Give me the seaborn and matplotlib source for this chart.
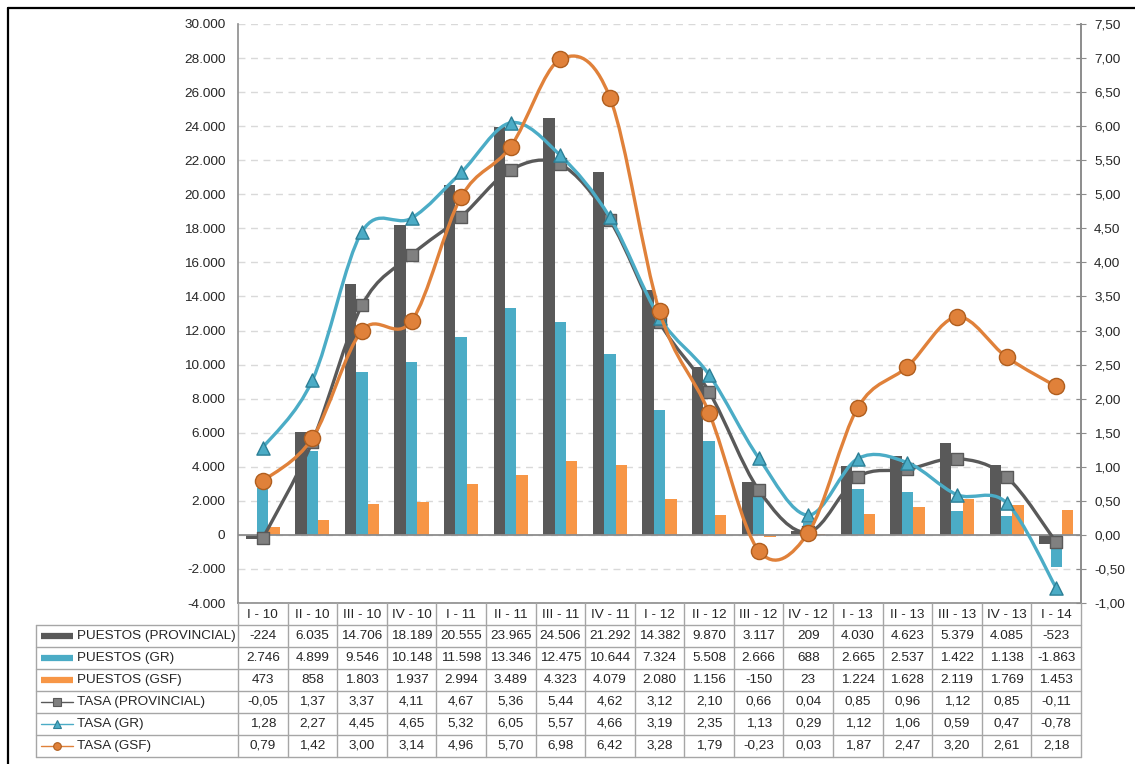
import numpy as np
import pandas as pd
import matplotlib
matplotlib.use("Agg")
import matplotlib.pyplot as plt
import seaborn as sns
from matplotlib.path import Path
from matplotlib.patches import PathPatch
from matplotlib.lines import Line2D
from matplotlib.ticker import FuncFormatter, MultipleLocator

periods = ["I - 10", "II - 10", "III - 10", "IV - 10", "I - 11", "II - 11", "III - 11", "IV - 11",
           "I - 12", "II - 12", "III - 12", "IV - 12", "I - 13", "II - 13", "III - 13", "IV - 13", "I - 14"]
puestos_prov = [-224, 6035, 14706, 18189, 20555, 23965, 24506, 21292, 14382, 9870, 3117, 209,
                4030, 4623, 5379, 4085, -523]
puestos_gr = [2746, 4899, 9546, 10148, 11598, 13346, 12475, 10644, 7324, 5508, 2666, 688,
              2665, 2537, 1422, 1138, -1863]
puestos_gsf = [473, 858, 1803, 1937, 2994, 3489, 4323, 4079, 2080, 1156, -150, 23,
               1224, 1628, 2119, 1769, 1453]
tasa_prov = [-0.05, 1.37, 3.37, 4.11, 4.67, 5.36, 5.44, 4.62, 3.12, 2.10, 0.66, 0.04,
             0.85, 0.96, 1.12, 0.85, -0.11]
tasa_gr = [1.28, 2.27, 4.45, 4.65, 5.32, 6.05, 5.57, 4.66, 3.19, 2.35, 1.13, 0.29,
           1.12, 1.06, 0.59, 0.47, -0.78]
tasa_gsf = [0.79, 1.42, 3.00, 3.14, 4.96, 5.70, 6.98, 6.42, 3.28, 1.79, -0.23, 0.03,
            1.87, 2.47, 3.20, 2.61, 2.18]

bar_names = ["PUESTOS (PROVINCIAL)", "PUESTOS (GR)", "PUESTOS (GSF)"]
line_names = ["TASA (PROVINCIAL)", "TASA (GR)", "TASA (GSF)"]
bar_colors = ["#595959", "#4BACC6", "#F79646"]
line_colors = ["#595959", "#4BACC6", "#E0813A"]
marker_faces = ["#808080", "#4BACC6", "#E0813A"]
marker_edges = ["#595959", "#2C7F96", "#B05E1E"]
markers = ["s", "^", "o"]
marker_sizes = [85, 90, 135]

sns.set_style("white")
plt.rcParams["font.family"] = ["Liberation Sans", "DejaVu Sans"]
plt.rcParams["font.size"] = 9.7

W, H = 1135, 764
fig = plt.figure(figsize=(W / 100, H / 100), dpi=100)

x_left, x_right, y_top, y_bot = 238, 1081, 24, 603
ax = fig.add_axes([x_left / W, 1 - y_bot / H, (x_right - x_left) / W, (y_bot - y_top) / H])

df = pd.DataFrame({
    "periodo": periods * 3,
    "serie": [n for n in bar_names for _ in periods],
    "puestos": puestos_prov + puestos_gr + puestos_gsf,
})
sns.barplot(data=df, x="periodo", y="puestos", hue="serie", order=periods, hue_order=bar_names,
            palette=bar_colors, width=0.69, gap=0, saturation=1, linewidth=0,
            legend=False, ax=ax, zorder=2)

ax.set_xlim(-0.5, len(periods) - 0.5)
ax.set_ylim(-4000, 30000)
ax.yaxis.set_major_locator(MultipleLocator(2000))
ax.yaxis.set_major_formatter(FuncFormatter(lambda v, p: f"{v:,.0f}".replace(",", ".")))
ax.set_axisbelow(True)
ax.yaxis.grid(True, color="#D9D9D9", lw=1, ls=(0, (5, 4)))
ax.axhline(0, color="#8C8C8C", lw=1.3, zorder=2.5)
ax.tick_params(axis="x", length=0, labelbottom=False)
ax.tick_params(axis="y", length=0, pad=9)
ax.set_xlabel("")
ax.set_ylabel("")
for side in ["top"]:
    ax.spines[side].set_visible(False)
for side in ["left", "right", "bottom"]:
    ax.spines[side].set_color("#8C8C8C")
    ax.spines[side].set_linewidth(1.2)

ax2 = ax.twinx()
ax2.set_ylim(-1, 7.5)
ax2.yaxis.set_major_locator(MultipleLocator(0.5))
ax2.yaxis.set_major_formatter(FuncFormatter(lambda v, p: f"{v:.2f}".replace(".", ",")))
ax2.tick_params(axis="y", direction="inout", length=7, color="#8C8C8C", pad=6)
ax2.spines["top"].set_visible(False)
ax2.spines["left"].set_visible(False)
ax2.spines["bottom"].set_visible(False)
ax2.spines["right"].set_color("#8C8C8C")
ax2.spines["right"].set_linewidth(1.2)


def smooth_path(xs, ys):
    pts = np.column_stack([xs, ys]).astype(float)
    n = len(pts)
    verts = [pts[0]]
    codes = [Path.MOVETO]
    for i in range(n - 1):
        p0 = pts[max(i - 1, 0)]
        p1 = pts[i]
        p2 = pts[i + 1]
        p3 = pts[min(i + 2, n - 1)]
        verts += [p1 + (p2 - p0) / 6, p2 - (p3 - p1) / 6, p2]
        codes += [Path.CURVE4] * 3
    return Path(verts, codes)


xs = np.arange(len(periods))
for k, vals in enumerate([tasa_prov, tasa_gr, tasa_gsf]):
    ax2.add_patch(PathPatch(smooth_path(xs, vals), fill=False, edgecolor=line_colors[k],
                            lw=2.4, zorder=3 + 2 * k, capstyle="round", joinstyle="round"))
    sns.scatterplot(x=xs, y=vals, marker=markers[k], s=marker_sizes[k], color=marker_faces[k],
                    edgecolor=marker_edges[k], linewidth=1, ax=ax2, zorder=4 + 2 * k, legend=False)

# data table below the plot
t_left, t_bot = 36, 757
col_w = (x_right - x_left) / len(periods)
tax = fig.add_axes([t_left / W, 1 - t_bot / H, (x_right - t_left) / W, (t_bot - y_bot) / H])
x0 = -0.5 - (x_left - t_left) / col_w
x1 = len(periods) - 0.5
tax.set_xlim(x0, x1)
tax.set_ylim(7, 0)
tax.axis("off")


def px(p):
    return x0 + (p - t_left) / col_w


grid_c = "#A6A6A6"
for k in range(len(periods) + 1):
    tax.plot([k - 0.5, k - 0.5], [0, 7], color=grid_c, lw=1, clip_on=False)
tax.plot([x0, x0], [1, 7], color=grid_c, lw=1, clip_on=False)
for r in range(1, 8):
    tax.plot([x0, x1], [r, r], color=grid_c, lw=1, clip_on=False)

for i, lab in enumerate(periods):
    tax.text(i, 0.55, lab, ha="center", va="center")


def fmt_int(v):
    return f"{v:,.0f}".replace(",", ".")


def fmt_dec(v):
    return f"{v:.2f}".replace(".", ",")


rows = [
    (bar_names[0], puestos_prov, fmt_int),
    (bar_names[1], puestos_gr, fmt_int),
    (bar_names[2], puestos_gsf, fmt_int),
    (line_names[0], tasa_prov, fmt_dec),
    (line_names[1], tasa_gr, fmt_dec),
    (line_names[2], tasa_gsf, fmt_dec),
]
for r, (name, vals, f) in enumerate(rows, start=1):
    y = r + 0.5
    tax.text(px(77), y, name, ha="left", va="center")
    for i, v in enumerate(vals):
        tax.text(i, y, f(v), ha="center", va="center")
    if r <= 3:
        tax.plot([px(41), px(73)], [y, y], color=bar_colors[r - 1], lw=4.5, solid_capstyle="butt")
    else:
        k = r - 4
        tax.plot([px(41), px(73)], [y, y], color=line_colors[k], lw=1)
        tax.plot([px(57)], [y], marker=markers[k], ms=5.5, color=marker_faces[k],
                 mec=marker_edges[k], mew=0.8)

# outer frame
fig.add_artist(Line2D([8 / W, 1], [1 - 8 / H, 1 - 8 / H], transform=fig.transFigure, color="black", lw=1.6))
fig.add_artist(Line2D([8 / W, 8 / W], [0, 1 - 8 / H], transform=fig.transFigure, color="black", lw=1.6))

fig.savefig("out.png", dpi=100)
